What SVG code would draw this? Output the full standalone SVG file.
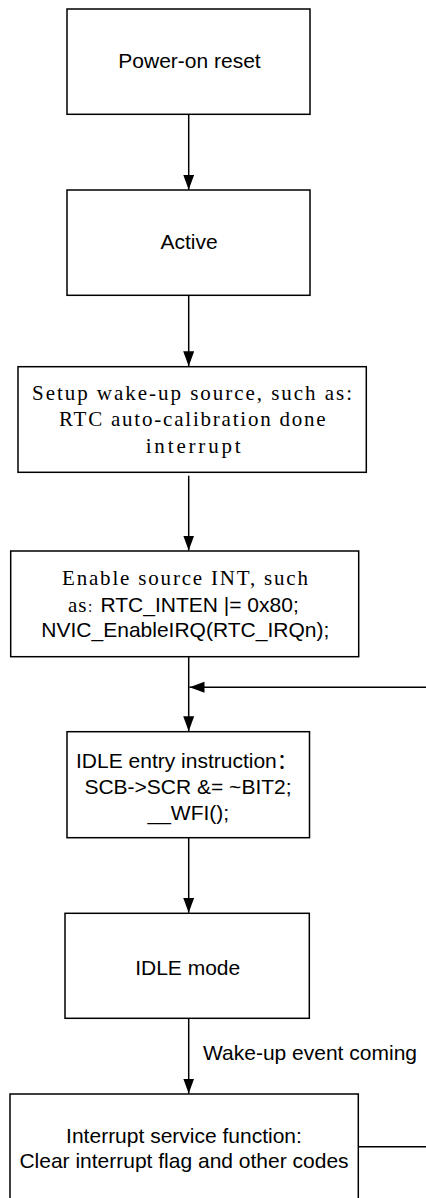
<svg xmlns="http://www.w3.org/2000/svg" width="426" height="1198" viewBox="0 0 426 1198">
<style>
.box{fill:#fff;stroke:#000;stroke-width:1.5}
.ln{fill:none;stroke:#000;stroke-width:1.5}
.s{font-family:"Liberation Sans",Arial,"Noto Sans CJK SC",sans-serif;font-size:21px;fill:#000}
.m{font-family:"Liberation Serif","Noto Sans CJK SC",serif;font-size:21px;fill:#000}
.c{text-anchor:middle}
</style>
<defs>
<marker id="ah" markerUnits="userSpaceOnUse" markerWidth="16" markerHeight="12" refX="15" refY="5.5" orient="auto">
<path d="M0,0 L15,5.5 L0,11 z" fill="#000"/>
</marker>
</defs>
<rect width="426" height="1198" fill="#fff"/>
<g id="connectors">
<line class="ln" x1="188.7" y1="114.3" x2="188.7" y2="189.7" marker-end="url(#ah)"/>
<line class="ln" x1="188.7" y1="295.3" x2="188.7" y2="366.2" marker-end="url(#ah)"/>
<line class="ln" x1="188.7" y1="475.7" x2="188.7" y2="550.5" marker-end="url(#ah)"/>
<line class="ln" x1="188.7" y1="656.7" x2="188.7" y2="731.2" marker-end="url(#ah)"/>
<line class="ln" x1="426" y1="687.3" x2="189.5" y2="687.3" marker-end="url(#ah)"/>
<line class="ln" x1="188.7" y1="837.7" x2="188.7" y2="912.8" marker-end="url(#ah)"/>
<line class="ln" x1="188.7" y1="1018.3" x2="188.7" y2="1093.5" marker-end="url(#ah)"/>
<line class="ln" x1="346.7" y1="1146.7" x2="426" y2="1146.7"/>
<text class="s" x="203" y="1060">Wake-up event coming</text>
</g>
<g id="power-on-reset">
<rect class="box" x="67" y="9" width="243" height="105.3"/>
<text class="s c" x="189.5" y="68.3">Power-on reset</text>
</g>
<g id="active">
<rect class="box" x="67" y="190" width="243" height="105.3"/>
<text class="s c" x="189" y="249">Active</text>
</g>
<g id="setup-wakeup">
<rect class="box" x="18" y="366.7" width="348.3" height="105.6"/>
<text class="m" x="32" y="400" textLength="320" lengthAdjust="spacing">Setup wake-up source, such as:</text>
<text class="m" x="59" y="425.5" textLength="266.7" lengthAdjust="spacing">RTC auto-calibration done</text>
<text class="m" x="145.7" y="452.5" textLength="95" lengthAdjust="spacing">interrupt</text>
</g>
<g id="enable-int">
<rect class="box" x="10.7" y="551" width="348" height="105.7"/>
<text class="m" x="62" y="585" textLength="246" lengthAdjust="spacing">Enable source INT, such</text>
<text y="611.7"><tspan class="m" x="68" textLength="18.5" lengthAdjust="spacing">as</tspan><tspan class="m" x="87" style="font-size:12.5px">：</tspan><tspan class="s" x="100.5">RTC_INTEN |= 0x80;</tspan></text>
<text class="s c" x="185.3" y="637.3">NVIC_EnableIRQ(RTC_IRQn);</text>
</g>
<g id="idle-entry">
<rect class="box" x="67" y="731.7" width="242.5" height="106"/>
<text class="s" x="76" y="767.7">IDLE entry instruction：</text>
<text class="s c" x="188" y="794.3">SCB-&gt;SCR &amp;= ~BIT2;</text>
<text class="s c" x="188.3" y="819.5">__WFI();</text>
</g>
<g id="idle-mode">
<rect class="box" x="65" y="913.3" width="244.3" height="105"/>
<text class="s c" x="187.7" y="975">IDLE mode</text>
</g>
<g id="isr">
<rect class="box" x="10" y="1094" width="348.3" height="110"/>
<text class="s c" x="184" y="1143.3">Interrupt service function:</text>
<text class="s c" x="184" y="1168.3">Clear interrupt flag and other codes</text>
</g>
</svg>
